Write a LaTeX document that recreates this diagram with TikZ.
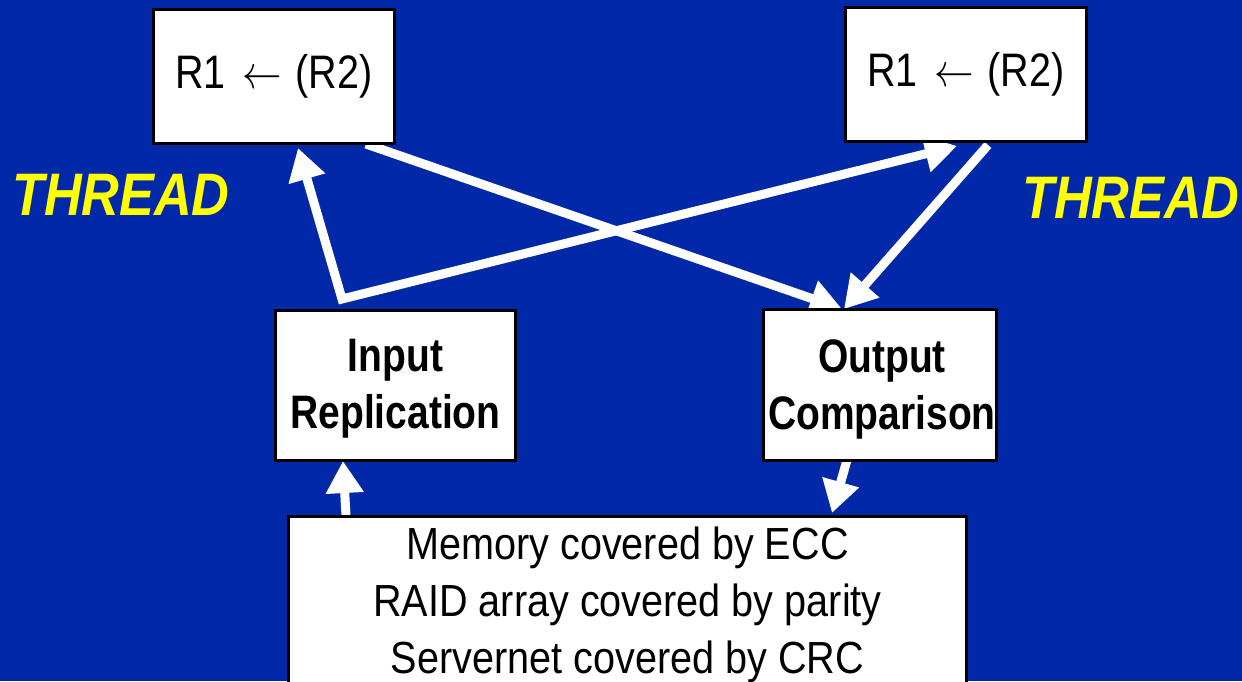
\documentclass[tikz,border=0pt]{standalone}
\usepackage{fix-cm}
\usepackage{fontspec}
\setmainfont{Liberation Sans}
\usetikzlibrary{arrows.meta}
\definecolor{bgblue}{RGB}{0,40,168}
\definecolor{thryellow}{RGB}{255,255,0}
\newcommand{\sqz}[2]{\scalebox{#1}[1]{#2}}
\begin{document}
\begin{tikzpicture}[x=1pt,y=-1pt,
  box/.style={draw=black, fill=white, line width=3pt, inner sep=0pt},
  regtext/.style={font=\fontsize{47}{57}\selectfont, text=black},
  boldtext/.style={font=\fontsize{47}{57}\selectfont\bfseries, align=center, inner sep=0pt, text=black},
  memtext/.style={font=\fontsize{45}{57}\selectfont, align=center, inner sep=0pt, text=black},
  threadtext/.style={font=\fontsize{60}{60}\selectfont\bfseries\itshape, text=thryellow, inner sep=0pt},
  wline/.style={draw=white, line width=9pt, line join=miter},
  wtip/.style={-{Triangle[length=32pt,width=36pt]}},
  wtips/.style={{Triangle[length=32pt,width=36pt]}-{Triangle[length=32pt,width=36pt]}}
]
\useasboundingbox (0,0) rectangle (1242,681);
\clip (0,0) rectangle (1242,681);
\fill[bgblue] (0,0) rectangle (1242,681);

% connector end points
\coordinate (c)  at (342,299);
\coordinate (t1) at (298,148);
\coordinate (t2) at (957,146);
\coordinate (s3) at (366,144);
\coordinate (t3) at (842,309);
\coordinate (s4) at (988,145);
\coordinate (t4) at (844,309);
\coordinate (s5) at (346,516);
\coordinate (t5) at (343,461);
\coordinate (s6) at (847,460);
\coordinate (t6) at (832,513);

% connectors
\draw[wline, wtips] (t1) -- (c) -- (t2);
\draw[wline, wtip] (s3) -- (t3);
\draw[wline, wtip] (s4) -- (t4);
\draw[wline, wtip] (s5) -- (t5);
\draw[wline, wtip] (s6) -- (t6);

% boxes
\node[box, regtext, minimum width=241pt, minimum height=134pt] (tl) at (274,76.5)
  {\sqz{0.84}{R1\hspace{7pt} $\leftarrow$\hspace{3pt} (R2)}};
\node[box, regtext, minimum width=241pt, minimum height=134pt] (tr) at (966,74.5)
  {\sqz{0.84}{R1\hspace{7pt} $\leftarrow$\hspace{3pt} (R2)}};
\node[box, minimum width=240pt, minimum height=150pt] (inrep) at (395.5,385.5) {};
\node[boldtext] (inreptxt) at (395.5,389) {\sqz{0.83}{Input}\\\sqz{0.83}{Replication}};
\node[box, minimum width=233pt, minimum height=151pt] (outcmp) at (880,385) {};
\node[boldtext] (outcmptxt) at (882,389) {\sqz{0.83}{Output}\\\sqz{0.83}{Comparison}};
\node[box, minimum width=678pt, minimum height=250pt, anchor=north] (mem) at (627.5,514.5) {};
\node[memtext, anchor=north] (memtxt) at (627.5,527)
  {\sqz{0.88}{Memory covered by ECC}\\\sqz{0.88}{RAID array covered by parity}\\\sqz{0.88}{Servernet covered by CRC}};

% labels
\node[threadtext, anchor=base west] (thrl) at (12,215) {\sqz{0.87}{THREAD}};
\node[threadtext, anchor=base west] (thrr) at (1022,218) {\sqz{0.87}{THREAD}};
\end{tikzpicture}
\end{document}
